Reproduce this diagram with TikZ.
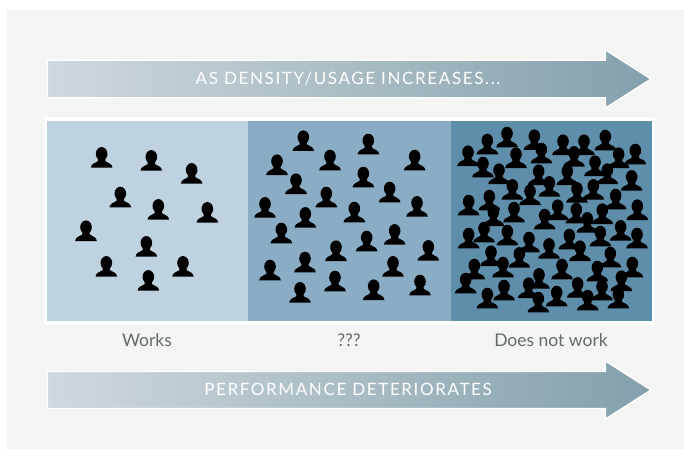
\documentclass[tikz,border=0pt]{standalone}
\usepackage{fontspec}
\setmainfont{Lato}
\newfontfamily\spacedfont[LetterSpace=9.5]{Lato}
\definecolor{panelbg}{HTML}{F3F5F4}
\definecolor{cellA}{HTML}{BFD2E0}
\definecolor{cellB}{HTML}{8AADC5}
\definecolor{cellC}{HTML}{5E8EAA}
\definecolor{arrowL}{HTML}{D0D8DD}
\definecolor{arrowR}{HTML}{83A0AC}
\definecolor{labelgray}{HTML}{666A6B}
\tikzset{
  x=1pt,y=-1pt,
  bigarrow/.style={left color=arrowL,right color=arrowR,draw=white,line width=1.4pt,line join=miter},
  arrowtext/.style={text=white,font=\spacedfont\fontsize{17}{20}\selectfont,inner sep=0pt,anchor=center},
  celllabel/.style={text=labelgray,font=\fontsize{17.5}{20}\selectfont,inner sep=0pt,anchor=center},
  person/.pic={
    \fill[black] (0,-13.8) ellipse[x radius=5.8,y radius=6.8];
    \fill[black] (-10.8,0) .. controls (-10.6,-4) and (-6.2,-4.8) .. (-3.8,-6.4) -- (-3.4,-10) -- (3.4,-10) -- (3.8,-6.4) .. controls (6.2,-4.8) and (10.6,-4) .. (10.8,0) -- cycle;
  }
}
\newcommand{\crowd}[3]{% offset x, offset y, list of zoomed positions
  \foreach \px/\py in {#3} {
    \pic at ({#1+\px/3},{#2+\py/3}) {person};
  }
}
\begin{document}
\begin{tikzpicture}
\useasboundingbox (0,0) rectangle (684,449);
\fill[white] (0,0) rectangle (684,449);
\fill[panelbg] (7,10) rectangle (684,449);
% top arrow
\path[bigarrow] (47.5,60.2) -- (605.5,60.2) -- (605.5,50) -- (651,79) -- (605.5,108) -- (605.5,97.8) -- (47.5,97.8) -- cycle;
\node[arrowtext] (densitytext) at (348,79) {AS DENSITY/USAGE INCREASES...};
% bottom arrow
\path[bigarrow] (47.5,371.5) -- (605.5,371.5) -- (605.5,361) -- (651,390) -- (605.5,419) -- (605.5,408.5) -- (47.5,408.5) -- cycle;
\node[arrowtext] (perftext) at (348,389.5) {PERFORMANCE DETERIORATES};
% cells
\fill[white] (43.5,117.2) rectangle (654.5,324.5);
\fill[cellA] (46.7,120.7) rectangle (248.2,320.8);
\fill[cellB] (248.2,120.7) rectangle (451,320.8);
\fill[cellC] (451,120.7) rectangle (651.7,320.8);
\crowd{40}{115}{185/158,334/167,455/206,241/277,355/314,502/323,138/378,319/425,199/485,429/485,325/527}
\crowd{245}{115}{175/108,370/118,96/180,255/166,509/166,153/237,355/217,434/262,244/277,60/308,516/305,181/338,328/322,109/385,449/389,365/409,550/437,273/438,180/472,444/485,75/496,270/529,525/541,386/555,165/563}
\crowd{450}{115}{171/97,112/118,253/105,339/120,402/120,466/106,54/153,274/145,372/155,198/159,506/159,556/148,99/187,435/183,147/207,266/210,352/210,472/207,545/227,187/254,298/245,240/270,430/254,381/263,497/283,56/301,118/286,562/315,192/322,323/315,379/325,457/327,130/333,284/343,412/353}
\crowd{450}{220}{512/62,561/85,56/85,102/67,172/76,237/97,297/116,358/88,390/123,451/79,123/138,208/143,159/172,481/142,547/172,336/178,73/178,442/184,47/220,267/206,514/213,236/234,162/241,383/233,456/241,320/259,112/265,265/277,413/271,505/265}
% labels
\node[celllabel] (works) at (147,340) {Works};
\node[celllabel] (unknown) at (349,340) {???};
\node[celllabel] (doesnot) at (551,340) {Does not work};
\end{tikzpicture}
\end{document}
